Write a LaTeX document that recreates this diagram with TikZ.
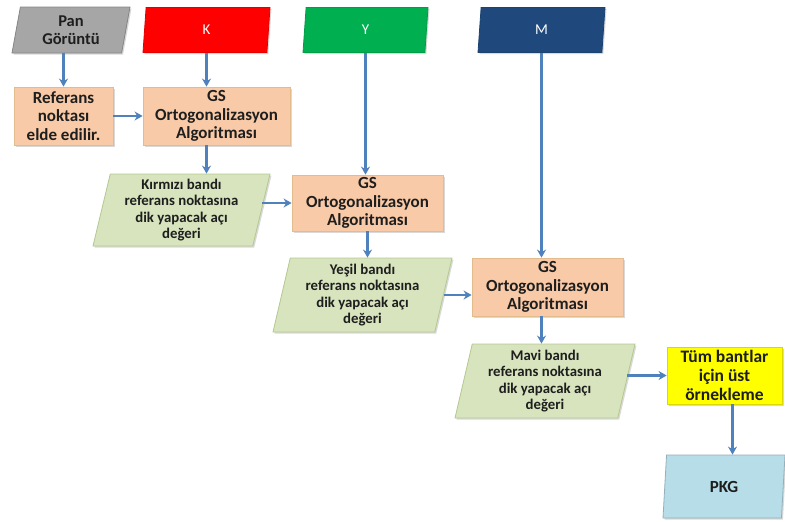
\documentclass[tikz,border=0pt]{standalone}
\usepackage{fontspec}
\setmainfont{Carlito}
\usepackage{xcolor}
\usetikzlibrary{shapes.geometric,shadows,arrows.meta,positioning,calc}
\definecolor{okmavi}{HTML}{4F81BD}
\definecolor{seftali}{HTML}{F9CAA7}
\definecolor{seftalikenar}{HTML}{E2BC8C}
\definecolor{acikyesil}{HTML}{D7E4BD}
\definecolor{yesilkenar}{HTML}{B4C88F}
\definecolor{gri}{HTML}{A6A6A6}
\definecolor{kirmizi}{HTML}{FF0000}
\definecolor{yesil}{HTML}{00B050}
\definecolor{lacivert}{HTML}{1F497D}
\definecolor{sari}{HTML}{FFFF00}
\definecolor{acikmavi}{HTML}{B7DDE8}
\definecolor{yazi}{HTML}{1E1E1E}
\newcommand{\kalin}{\bfseries\fontsize{17}{18.5}\selectfont}
\newcommand{\orta}{\bfseries\fontsize{14.8}{16.5}\selectfont}
\newcommand{\harf}{\fontsize{15}{16}\selectfont}

\begin{document}
\begin{tikzpicture}[x=1pt,y=-1pt, >={Stealth[length=8pt,width=9pt]},
  golge/.style={drop shadow={shadow xshift=1.5pt,shadow yshift=-1.5pt,opacity=0.3}},
  kutu/.style={rectangle, draw=seftalikenar, fill=seftali, line width=0.8pt, align=center, inner sep=1pt, text=yazi, font=\kalin, golge},
  giris/.style={trapezium, trapezium left angle=75, trapezium right angle=105, trapezium stretches body, align=center, inner sep=1pt, line width=0.8pt, golge},
  aci/.style={giris, draw=yesilkenar, fill=acikyesil, text=yazi, font=\orta},
  ok/.style={->, draw=okmavi, line width=2.3pt}]
\useasboundingbox (0,0) rectangle (785,522);

% girdiler
\node[giris, draw=gri!80!black, fill=gri, text=yazi, font=\bfseries\fontsize{16.5}{18.5}\selectfont, minimum width=118pt, minimum height=46pt] (pan) at (71,30) {Pan\\Görüntü};
\node[giris, draw=kirmizi!90!black, fill=kirmizi, text=white, font=\harf, minimum width=127pt, minimum height=45pt] (k) at (206.5,30) {K};
\node[giris, draw=yesil!90!black, fill=yesil, text=white, font=\harf, minimum width=125pt, minimum height=45pt] (y) at (365.5,30) {Y};
\node[giris, draw=lacivert!90!black, fill=lacivert, text=white, font=\harf, minimum width=127pt, minimum height=45pt] (m) at (541.5,30) {M};

% islemler
\node[kutu, minimum width=99pt, minimum height=58pt] (ref) at (63.5,116) {Referans\\noktası\\elde edilir.};
\node[kutu, minimum width=147pt, minimum height=58pt] (gs1) at (216.5,116) {GS\\Ortogonalizasyon\\Algoritması};
\node[kutu, minimum width=151pt, minimum height=56pt] (gs2) at (367.5,203) {GS\\Ortogonalizasyon\\Algoritması};
\node[kutu, minimum width=151pt, minimum height=58pt] (gs3) at (547.5,287) {GS\\Ortogonalizasyon\\Algoritması};
\node[kutu, draw=sari!85!black, fill=sari, font=\bfseries\fontsize{17.5}{19}\selectfont, minimum width=115pt, minimum height=57pt] (tum) at (724.5,375.5) {Tüm bantlar\\için üst\\örnekleme};

% aci degerleri
\node[aci, minimum width=177pt, minimum height=72pt] (kir) at (181.5,210) {Kırmızı bandı\\referans noktasına\\dik yapacak açı\\değeri};
\node[aci, minimum width=179pt, minimum height=74pt] (yes) at (362.5,295) {Yeşil bandı\\referans noktasına\\dik yapacak açı\\değeri};
\node[aci, minimum width=180pt, minimum height=74pt] (mav) at (545,381) {Mavi bandı\\referans noktasına\\dik yapacak açı\\değeri};

% sonuc
\node[giris, draw=acikmavi!80!black, fill=acikmavi, text=yazi, font=\bfseries\fontsize{17}{18}\selectfont, minimum width=122pt, minimum height=63pt] (pkg) at (724,486.5) {PKG};

% oklar
\draw[ok] (ref.north |- pan.south) -- (ref.north);
\draw[ok] (k.south) -- (k.south |- gs1.north);
\draw[ok] (ref.east) -- (gs1.west |- ref.east);
\draw[ok] (gs1.south -| k) -- (kir.north -| k);
\draw[ok] (kir.east |- gs2.west) -- (gs2.west);
\draw[ok] (y.south) -- (y.south |- gs2.north);
\draw[ok] (gs2.south) -- (gs2.south |- yes.north);
\draw[ok] (yes.east) -- (yes.east -| gs3.west);
\draw[ok] (m.south) -- (m.south |- gs3.north);
\draw[ok] (gs3.south -| m) -- (mav.north -| m);
\draw[ok] (mav.east |- tum.west) -- (tum.west);
\coordinate (tumalt) at ([xshift=8pt]tum.south);
\draw[ok] (tumalt) -- (tumalt |- pkg.north);
\end{tikzpicture}
\end{document}
